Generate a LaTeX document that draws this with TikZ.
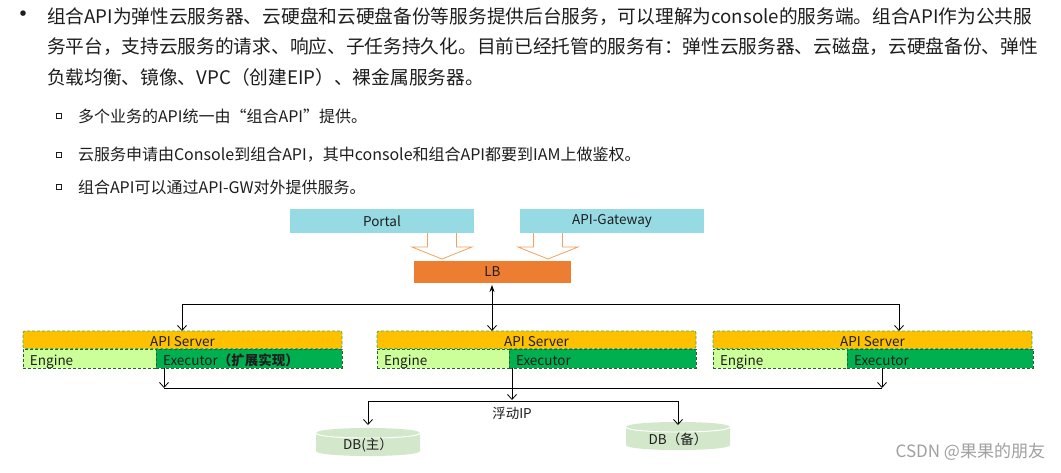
\documentclass[tikz,border=0pt]{standalone}
\usepackage{fontspec}
\setmainfont{Noto Sans CJK SC}
\usetikzlibrary{arrows.meta}
\definecolor{txt}{HTML}{1E1E1E}
\definecolor{cyanbox}{HTML}{96DAE3}
\definecolor{lborange}{HTML}{ED7D31}
\definecolor{arrowline}{HTML}{F2A060}
\definecolor{srvyellow}{HTML}{FFC000}
\definecolor{engreen}{HTML}{CCFF99}
\definecolor{exgreen}{HTML}{00B050}
\definecolor{dashgreen}{HTML}{3CB44B}
\definecolor{edgedark}{HTML}{2E5E2E}
\definecolor{dbgreen}{HTML}{D3E8CB}
\definecolor{wm}{HTML}{A0A0A0}
\newcommand{\lowtxt}[2]{\raisebox{-#1}[0pt][0pt]{#2}}
\tikzset{
  every node/.style={inner sep=0pt, outer sep=0pt, text=txt},
  maintext/.style={anchor=west, font=\fontsize{18.7}{20}\selectfont},
  subtext/.style={anchor=west, font=\fontsize{16}{18}\selectfont},
  subbullet/.style={draw=txt, line width=0.6pt, minimum size=5pt},
  dfont/.style={font=\fontsize{13.5}{15}\selectfont},
  topbox/.style={dfont, rectangle, anchor=north west, fill=cyanbox, minimum width=184pt, minimum height=24pt},
  lbbox/.style={dfont, rectangle, anchor=north west, fill=lborange, minimum width=157pt, minimum height=22pt},
  srvbox/.style={dfont, rectangle, anchor=north west, fill=srvyellow, draw=dashgreen, line width=0.8pt, dash pattern=on 3pt off 2pt, rounded corners=2pt, minimum width=319pt, minimum height=17.5pt},
  lowbox/.style={dfont, rectangle, anchor=north west, draw=edgedark, line width=0.7pt, dash pattern=on 3pt off 2pt, minimum height=19pt, inner xsep=7pt, align=left},
  engbox/.style={lowbox, fill=engreen},
  exbox/.style={lowbox, fill=exgreen},
  blockarrow/.style={draw=arrowline, fill=white, line width=0.8pt, line join=miter},
  conn/.style={draw=black, line width=0.8pt},
  openhead/.style={-{Straight Barb[length=5pt,width=9pt]}},
  dbshape/.style={fill=dbgreen},
}
\begin{document}
\begin{tikzpicture}[x=1pt,y=-1pt]
\useasboundingbox (0,0) rectangle (1061,472);
\fill[white] (0,0) rectangle (1061,472);

% bullet paragraph
\node[font=\fontsize{26}{28}\selectfont] (bul) at (23,17) {•};
\node[maintext] (l1) at (47,17) {组合API为弹性云服务器、云硬盘和云硬盘备份等服务提供后台服务，可以理解为console的服务端。组合API作为公共服};
\node[maintext] (l2) at (47,47) {务平台，支持云服务的请求、响应、子任务持久化。目前已经托管的服务有：弹性云服务器、云磁盘，云硬盘备份、弹性};
\node[maintext] (l3) at (47,77) {负载均衡、镜像、VPC（创建EIP）、裸金属服务器。};

\node[subbullet] (sb1) at (58.5,116) {};
\node[subbullet] (sb2) at (58.5,155) {};
\node[subbullet] (sb3) at (58.5,187) {};
\node[subtext] (s1) at (78,116) {多个业务的API统一由“组合API”提供。};
\node[subtext] (s2) at (78,155) {云服务申请由Console到组合API，其中console和组合API都要到IAM上做鉴权。};
\node[subtext] (s3) at (78,187) {组合API可以通过API-GW对外提供服务。};

% top boxes
\node[topbox] (portal) at (290,209) {Portal};
\node[topbox] (gw) at (520,209) {API-Gateway};
\node[lbbox] (lb) at (414,261) {LB};

% block arrows
\coordinate (pa) at (442,233);
\coordinate (ga) at (548,233);
\draw[blockarrow] (pa) ++(-14.5,0) -- ++(0,14) -- ++(-15.5,0) -- ++(30,12) -- ++(30,-12) -- ++(-15.5,0) -- ++(0,-14);
\draw[blockarrow] (ga) ++(-14.5,0) -- ++(0,14) -- ++(-15.5,0) -- ++(30,12) -- ++(30,-12) -- ++(-15.5,0) -- ++(0,-14);

% server units
\node[srvbox] (srv1) at (23,331) {\lowtxt{6.5pt}{API Server}};
\node[engbox, text width=119pt] (en1) at (23,349) {\lowtxt{6.5pt}{Engine}};
\node[exbox, text width=172pt] (ex1) at (156,349) {\lowtxt{6.5pt}{Executor{\bfseries（扩展实现）}}};

\node[srvbox] (srv2) at (377,331) {\lowtxt{6.5pt}{API Server}};
\node[engbox, text width=118pt] (en2) at (377,349) {\lowtxt{6.5pt}{Engine}};
\node[exbox, text width=173pt] (ex2) at (509,349) {\lowtxt{6.5pt}{Executor}};

\node[srvbox] (srv3) at (713,331) {\lowtxt{6.5pt}{API Server}};
\node[engbox, text width=120pt] (en3) at (713,349) {\lowtxt{6.5pt}{Engine}};
\node[exbox, text width=172pt] (ex3) at (847,349) {\lowtxt{6.5pt}{Executor}};

% LB to servers
\coordinate (t1) at (182,304);
\coordinate (t2) at (492,304);
\coordinate (t3) at (899,304);
\draw[conn] (t1) -- (t3);
\draw[conn, openhead] (t1) -- (t1 |- srv1.north);
\draw[conn, openhead] (t3) -- (t3 |- srv3.north);
\draw[conn, {Stealth[length=7pt,width=5pt]}-{Straight Barb[length=5pt,width=9pt]}, shorten <=2pt] (t2 |- lb.south) -- (t2 |- srv2.north);

% executors to floating IP
\coordinate (b1) at (164,388);
\coordinate (b2) at (512,388);
\coordinate (b3) at (882,388);
\draw[conn] (b1) -- (b3);
\draw[conn, openhead] (b1 |- ex1.south) -- (b1);
\draw[conn, openhead] (b3 |- ex3.south) -- (b3);
\coordinate (f0) at (512,400);
\coordinate (f1) at (368,401);
\coordinate (f2) at (678,401);
\draw[conn, openhead] (b2 |- ex2.south) -- (f0);
\draw[conn] (f1) -- (f2);
\node[dfont] (fip) at (512,413) {浮动IP};

% databases
\fill[dbshape] (316,433) -- (316,451) .. controls (316,457.7) and (420,457.7) .. (420,451) -- (420,433) .. controls (420,426.3) and (316,426.3) .. (316,433) -- cycle;
\draw[white, line width=0.9pt] (316,433) .. controls (316,439.7) and (420,439.7) .. (420,433);
\fill[dbshape] (626,427) -- (626,445) .. controls (626,451.7) and (730,451.7) .. (730,445) -- (730,427) .. controls (730,420.3) and (626,420.3) .. (626,427) -- cycle;
\draw[white, line width=0.9pt] (626,427) .. controls (626,433.7) and (730,433.7) .. (730,427);
\node[dfont] (db1) at (368,445) {DB(主）};
\node[dfont] (db2) at (678,439) {DB（备）};
\coordinate (d1) at (368,425);
\coordinate (d2) at (678,425);
\draw[conn, openhead] (f1) -- (d1);
\draw[conn, openhead] (f2) -- (d2);

% watermark
\node[anchor=east, text=wm, font=\fontsize{17}{19}\selectfont] (wmk) at (1045,452) {CSDN @果果的朋友};
\end{tikzpicture}
\end{document}
